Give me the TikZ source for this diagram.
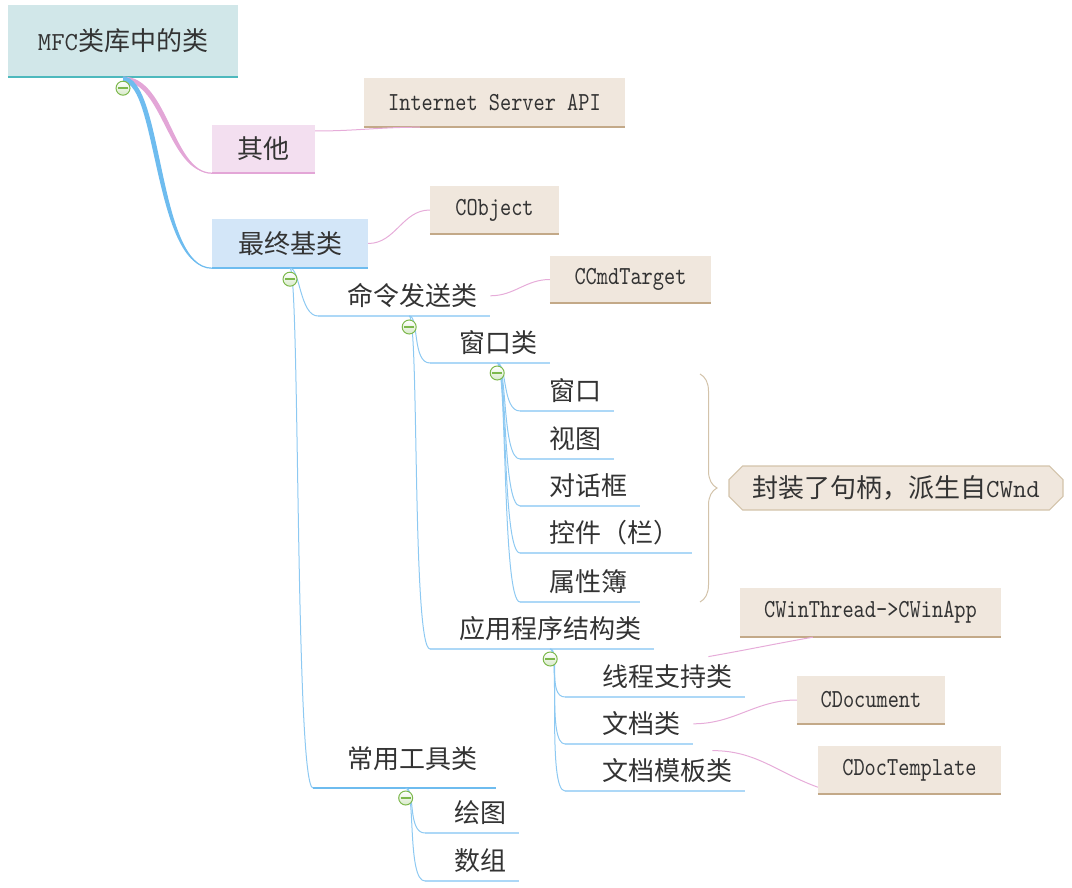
\documentclass[tikz,border=0pt]{standalone}
\usepackage{fontspec}
\setmainfont{Noto Sans CJK SC}
\newfontfamily\clsfont{lmmono10-regular.otf}[FakeStretch=0.82]
\usetikzlibrary{positioning,shapes.misc,decorations.pathreplacing}
\definecolor{Ink}{HTML}{333333}
\definecolor{RootFill}{HTML}{D1E7E9}
\definecolor{RootLine}{HTML}{4DB9BD}
\definecolor{OtherFill}{HTML}{F3DFF0}
\definecolor{OtherLine}{HTML}{E3A6D7}
\definecolor{BaseFill}{HTML}{D3E6F8}
\definecolor{BaseLine}{HTML}{6EBCEF}
\definecolor{ClsFill}{HTML}{F0E7DD}
\definecolor{ClsLine}{HTML}{C3A988}
\definecolor{NoteLine}{HTML}{D3C3AA}
\definecolor{Branch}{HTML}{8DC9F2}
\definecolor{SubLine}{HTML}{ADD8F7}
\definecolor{Pinkish}{HTML}{E6ACD9}
\definecolor{FoldGreen}{HTML}{7DB84C}
\newcommand{\zhsize}{\fontsize{26}{30}\selectfont}
\newcommand{\clsize}{\clsfont\fontsize{26}{28}\selectfont}

\begin{document}
\begin{tikzpicture}[x=1pt,y=-1pt,
  bar/.style 2 args={fill=#1, text=Ink, inner sep=0pt,
    append after command={(\tikzlastnode.south west) edge[draw=#2,line width=2.5pt] (\tikzlastnode.south east)}},
  topic/.style={font=\zhsize},
  cls/.style={bar={ClsFill}{ClsLine}, font=\clsize},
  sub/.style={anchor=south west, text=Ink, inner xsep=13pt, inner ysep=0pt,
    minimum height=40pt, font=\zhsize, execute at begin node={\hspace*{#1}},
    append after command={(\tikzlastnode.south west) edge[draw=SubLine,line width=2pt] (\tikzlastnode.south east)}},
  sub/.default=16pt,
  twig/.style={draw=Branch, line width=1pt},
  link/.style={draw=Pinkish, line width=1pt},
  fold/.style={circle, draw=FoldGreen, line width=1pt, minimum size=14pt, inner sep=0pt,
    top color=white, bottom color=FoldGreen!30,
    path picture={\draw[FoldGreen, line width=1.8pt] ([xshift=-5pt]path picture bounding box.center) -- ([xshift=5pt]path picture bounding box.center);}},
  note/.style={chamfered rectangle, chamfered rectangle xsep=10pt, draw=NoteLine, line width=1.2pt,
    fill=ClsFill, text=Ink, font=\zhsize, minimum width=334pt, minimum height=44pt, inner sep=0pt},
  brace/.style={draw=NoteLine, line width=1pt, decorate, decoration={brace,amplitude=17pt}}
]
\useasboundingbox (0,0) rectangle (1072,888);

% main topics
\node[bar={RootFill}{RootLine}, topic, minimum width=230pt, minimum height=72pt] (root) at (123,41) {{\ttfamily MFC}类库中的类};
\node[bar={OtherFill}{OtherLine}, topic, minimum width=103pt, minimum height=48pt] (other) at (263.5,149) {其他};
\node[bar={BaseFill}{BaseLine}, topic, minimum width=156pt, minimum height=49pt] (base) at (290,243.5) {最终基类};

% class names
\node[cls, minimum width=261pt, minimum height=49pt] (isapi) at (494.5,102.5) {Internet Server API};
\node[cls, minimum width=129pt, minimum height=48pt] (cobj) at (494.5,210) {CObject};
\node[cls, minimum width=161pt, minimum height=47pt] (cmdt) at (630.5,279.5) {CCmdTarget};
\node[cls, minimum width=261pt, minimum height=49pt] (winapp) at (870.5,612.5) {CWinThread->CWinApp};
\node[cls, minimum width=148pt, minimum height=48pt] (cdoc) at (871,700) {CDocument};
\node[cls, minimum width=183pt, minimum height=48pt] (ctpl) at (909.5,770) {CDocTemplate};

% subtopics
\node[sub] (cmd) at (318,316) {命令发送类};
\node[sub] (wnd) at (430,363) {窗口类};
\node[sub] (w1) at (520,411) {窗口};
\node[sub] (w2) at (520,459) {视图};
\node[sub] (w3) at (520,506) {对话框};
\node[sub] (w4) at (520,553) {控件（栏）};
\node[sub] (w5) at (520,602) {属性簿};
\node[sub] (app) at (430,649) {应用程序结构类};
\node[sub=24pt] (thr) at (565,697) {线程支持类};
\node[sub=24pt] (doc) at (565,744) {文档类};
\node[sub=24pt] (tpl) at (565,791) {文档模板类};
\node[sub, minimum width=183pt, minimum height=58pt] (tool) at (313,788) {常用工具类};
\draw[BaseLine, line width=2.5pt] (tool.south west) -- (tool.south east);
\node[sub] (paint) at (425,833) {绘图};
\node[sub] (arr) at (425,881) {数组};

% summary
\coordinate (bt) at (700,374);
\coordinate (bb) at (700,602);
\draw[brace] (bt) -- (bb);
\node[note] (hint) at (896,488) {封装了句柄，派生自{\ttfamily CWnd}};

% branches from the root, thinning out
\fill[OtherLine] (root.south) .. controls +(45,0) and +(-40,0) .. (other.south west)
  .. controls +(-44,0) and +(40,0) .. ([yshift=-4pt]root.south) -- cycle;
\draw[OtherLine, line width=1.2pt] (root.south) .. controls +(45,0) and +(-40,0) .. (other.south west);
\fill[BaseLine] (root.south) .. controls +(40,0) and +(-55,0) .. (base.south west)
  .. controls +(-58,0) and +(34,0) .. ([yshift=-5pt]root.south) -- cycle;
\draw[BaseLine, line width=1.2pt] (root.south) .. controls +(40,0) and +(-55,0) .. (base.south west);

\coordinate (bp) at (base.south);
\coordinate (cp) at ([xshift=5pt]cmd.south);
\coordinate (wp) at ([xshift=7pt]wnd.south);
\coordinate (ap) at ([xshift=8pt]app.south);
\coordinate (tp) at ([xshift=1pt]tool.south);
\foreach \k in {cmd,tool} \draw[twig] (bp) .. controls +(10,0) and +(-18,0) .. (\k.south west);
\foreach \k in {wnd,app} \draw[twig] (cp) .. controls +(10,0) and +(-18,0) .. (\k.south west);
\foreach \k in {w1,w2,w3,w4,w5} \draw[twig] (wp) .. controls +(10,0) and +(-18,0) .. (\k.south west);
\foreach \k in {thr,doc,tpl} \draw[twig] (ap) .. controls +(10,0) and +(-18,0) .. (\k.south west);
\foreach \k in {paint,arr} \draw[twig] (tp) .. controls +(10,0) and +(-18,0) .. (\k.south west);

% links to classes
\draw[link] ([yshift=18pt]other.east) to[out=0,in=180] ([xshift=56pt]isapi.south west);
\draw[link] (base.east) to[out=0,in=180] (cobj.west);
\draw[link] (cmd.east) to[out=0,in=180] (cmdt.west);
\draw[link] ([xshift=-37pt]thr.north east) to[out=10,in=190] ([xshift=73pt]winapp.south west);
\draw[link] (doc.east) to[out=0,in=180] (cdoc.west);
\draw[link] ([xshift=-33pt]tpl.north east) to[out=0,in=160] ([yshift=7pt]ctpl.south west);

% collapse marks
\node[fold] (f0) at ([yshift=-11pt]root.south) {};
\node[fold] (f1) at ([yshift=-11pt]bp) {};
\node[fold] (f2) at ([yshift=-11pt]cp) {};
\node[fold] (f3) at ([yshift=-10pt]wp) {};
\node[fold] (f4) at ([yshift=-10pt]ap) {};
\node[fold] (f5) at ([yshift=-10pt]tp) {};
\end{tikzpicture}
\end{document}
